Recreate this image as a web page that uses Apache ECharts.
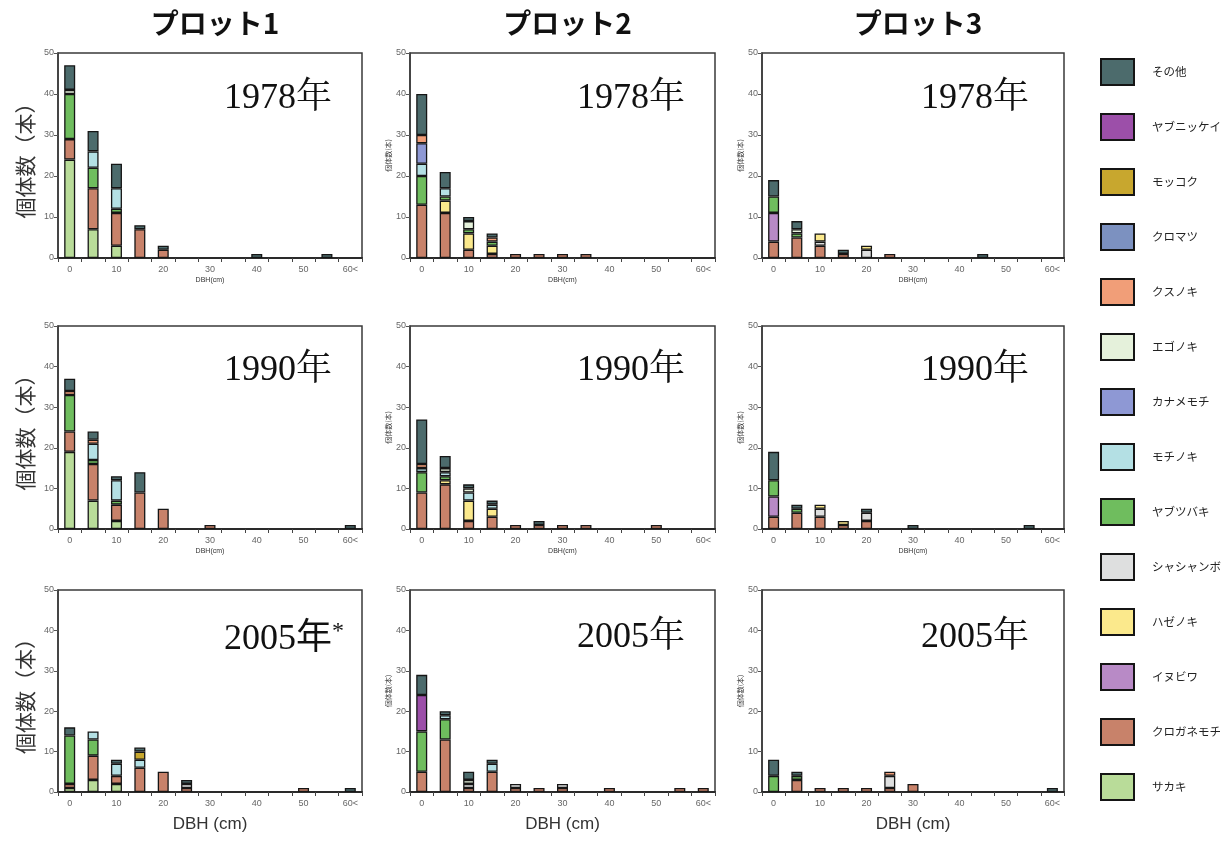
<!DOCTYPE html>
<html lang="ja">
<head>
  <meta charset="utf-8">
  <title>DBH分布 プロット1〜3</title>
  <style>
    html, body { margin: 0; padding: 0; background: #fff; }
    #main { width: 1232px; height: 843px; }
  </style>
</head>
<body>
  <div id="main"></div>
  <script src="https://cdn.jsdelivr.net/npm/echarts@6/dist/echarts.min.js"></script>
  <script>
    // DBH classes (cm)
    var categories = ['0', '5', '10', '15', '20', '25', '30', '35', '40', '45', '50', '55', '60<'];
    var yTicks = [0, 10, 20, 30, 40, 50];
    var plotNames = ['プロット1', 'プロット2', 'プロット3'];
    var years = ['1978年', '1990年', '2005年'];

    // species, bottom of the stack first
    var stackOrder = ['サカキ', 'クロガネモチ', 'イヌビワ', 'シャシャンボ', 'ハゼノキ', 'ヤブツバキ', 'モチノキ',
      'カナメモチ', 'エゴノキ', 'クスノキ', 'クロマツ', 'モッコク', 'ヤブニッケイ', 'その他'];
    // legend, top to bottom
    var legendOrder = ['その他', 'ヤブニッケイ', 'モッコク', 'クロマツ', 'クスノキ', 'エゴノキ', 'カナメモチ',
      'モチノキ', 'ヤブツバキ', 'シャシャンボ', 'ハゼノキ', 'イヌビワ', 'クロガネモチ', 'サカキ'];
    var colors = {
      'その他': '#4c6b6c', 'ヤブニッケイ': '#9c4fa9', 'モッコク': '#c8a72e', 'クロマツ': '#7c91c0',
      'クスノキ': '#f19e78', 'エゴノキ': '#e5f1db', 'カナメモチ': '#8e98d4', 'モチノキ': '#b4e0e4',
      'ヤブツバキ': '#6fbd5e', 'シャシャンボ': '#dedfdf', 'ハゼノキ': '#fbe98c', 'イヌビワ': '#b88ac6',
      'クロガネモチ': '#c8826a', 'サカキ': '#b9dc99'
    };

    // counts per DBH class, one object per plot & year
    var p1_1978 = {
      'サカキ':       [24, 7, 3, 0, 0, 0, 0, 0, 0, 0, 0, 0, 0],
      'クロガネモチ': [5, 10, 8, 7, 2, 0, 0, 0, 0, 0, 0, 0, 0],
      'ヤブツバキ':   [11, 5, 1, 0, 0, 0, 0, 0, 0, 0, 0, 0, 0],
      'モチノキ':     [0, 4, 5, 0, 0, 0, 0, 0, 0, 0, 0, 0, 0],
      'エゴノキ':     [1, 0, 0, 0, 0, 0, 0, 0, 0, 0, 0, 0, 0],
      'その他':       [6, 5, 6, 1, 1, 0, 0, 0, 1, 0, 0, 1, 0]
    };
    var p2_1978 = {
      'クロガネモチ': [13, 11, 2, 1, 1, 1, 1, 1, 0, 0, 0, 0, 0],
      'ハゼノキ':     [0, 3, 4, 2, 0, 0, 0, 0, 0, 0, 0, 0, 0],
      'ヤブツバキ':   [7, 1, 1, 1, 0, 0, 0, 0, 0, 0, 0, 0, 0],
      'モチノキ':     [3, 2, 0, 0, 0, 0, 0, 0, 0, 0, 0, 0, 0],
      'カナメモチ':   [5, 0, 0, 0, 0, 0, 0, 0, 0, 0, 0, 0, 0],
      'エゴノキ':     [0, 0, 2, 0, 0, 0, 0, 0, 0, 0, 0, 0, 0],
      'クスノキ':     [2, 0, 0, 1, 0, 0, 0, 0, 0, 0, 0, 0, 0],
      'その他':       [10, 4, 1, 1, 0, 0, 0, 0, 0, 0, 0, 0, 0]
    };
    var p3_1978 = {
      'クロガネモチ': [4, 5, 3, 1, 0, 1, 0, 0, 0, 0, 0, 0, 0],
      'イヌビワ':     [7, 0, 0, 0, 0, 0, 0, 0, 0, 0, 0, 0, 0],
      'シャシャンボ': [0, 0, 1, 0, 2, 0, 0, 0, 0, 0, 0, 0, 0],
      'ハゼノキ':     [0, 0, 2, 0, 1, 0, 0, 0, 0, 0, 0, 0, 0],
      'ヤブツバキ':   [4, 1, 0, 0, 0, 0, 0, 0, 0, 0, 0, 0, 0],
      'エゴノキ':     [0, 1, 0, 0, 0, 0, 0, 0, 0, 0, 0, 0, 0],
      'その他':       [4, 2, 0, 1, 0, 0, 0, 0, 0, 1, 0, 0, 0]
    };
    var p1_1990 = {
      'サカキ':       [19, 7, 2, 0, 0, 0, 0, 0, 0, 0, 0, 0, 0],
      'クロガネモチ': [5, 9, 4, 9, 5, 0, 1, 0, 0, 0, 0, 0, 0],
      'ヤブツバキ':   [9, 1, 1, 0, 0, 0, 0, 0, 0, 0, 0, 0, 0],
      'モチノキ':     [0, 4, 5, 0, 0, 0, 0, 0, 0, 0, 0, 0, 0],
      'クスノキ':     [1, 1, 0, 0, 0, 0, 0, 0, 0, 0, 0, 0, 0],
      'その他':       [3, 2, 1, 5, 0, 0, 0, 0, 0, 0, 0, 0, 1]
    };
    var p2_1990 = {
      'クロガネモチ': [9, 11, 2, 3, 1, 1, 1, 1, 0, 0, 1, 0, 0],
      'ハゼノキ':     [0, 1, 5, 2, 0, 0, 0, 0, 0, 0, 0, 0, 0],
      'ヤブツバキ':   [5, 1, 0, 0, 0, 0, 0, 0, 0, 0, 0, 0, 0],
      'モチノキ':     [1, 1, 2, 1, 0, 0, 0, 0, 0, 0, 0, 0, 0],
      'エゴノキ':     [0, 1, 1, 0, 0, 0, 0, 0, 0, 0, 0, 0, 0],
      'クスノキ':     [1, 0, 0, 0, 0, 0, 0, 0, 0, 0, 0, 0, 0],
      'その他':       [11, 3, 1, 1, 0, 1, 0, 0, 0, 0, 0, 0, 0]
    };
    var p3_1990 = {
      'クロガネモチ': [3, 4, 3, 1, 2, 0, 0, 0, 0, 0, 0, 0, 0],
      'イヌビワ':     [5, 0, 0, 0, 0, 0, 0, 0, 0, 0, 0, 0, 0],
      'シャシャンボ': [0, 0, 2, 0, 2, 0, 0, 0, 0, 0, 0, 0, 0],
      'ハゼノキ':     [0, 0, 1, 1, 0, 0, 0, 0, 0, 0, 0, 0, 0],
      'ヤブツバキ':   [4, 1, 0, 0, 0, 0, 0, 0, 0, 0, 0, 0, 0],
      'その他':       [7, 1, 0, 0, 1, 0, 1, 0, 0, 0, 0, 1, 0]
    };
    var p1_2005 = {
      'サカキ':       [1, 3, 2, 0, 0, 0, 0, 0, 0, 0, 0, 0, 0],
      'クロガネモチ': [1, 6, 2, 6, 5, 1, 0, 0, 0, 0, 1, 0, 0],
      'シャシャンボ': [0, 0, 0, 0, 0, 1, 0, 0, 0, 0, 0, 0, 0],
      'ヤブツバキ':   [12, 4, 0, 0, 0, 0, 0, 0, 0, 0, 0, 0, 0],
      'モチノキ':     [0, 2, 3, 2, 0, 0, 0, 0, 0, 0, 0, 0, 0],
      'モッコク':     [0, 0, 0, 2, 0, 0, 0, 0, 0, 0, 0, 0, 0],
      'その他':       [2, 0, 1, 1, 0, 1, 0, 0, 0, 0, 0, 0, 1]
    };
    var p2_2005 = {
      'クロガネモチ': [5, 13, 1, 5, 1, 1, 1, 0, 1, 0, 0, 1, 1],
      'シャシャンボ': [0, 0, 1, 0, 1, 0, 1, 0, 0, 0, 0, 0, 0],
      'ヤブツバキ':   [10, 5, 0, 0, 0, 0, 0, 0, 0, 0, 0, 0, 0],
      'モチノキ':     [0, 1, 0, 2, 0, 0, 0, 0, 0, 0, 0, 0, 0],
      'エゴノキ':     [0, 0, 1, 0, 0, 0, 0, 0, 0, 0, 0, 0, 0],
      'ヤブニッケイ': [9, 0, 0, 0, 0, 0, 0, 0, 0, 0, 0, 0, 0],
      'その他':       [5, 1, 2, 1, 0, 0, 0, 0, 0, 0, 0, 0, 0]
    };
    var p3_2005 = {
      'クロガネモチ': [0, 3, 1, 1, 1, 1, 2, 0, 0, 0, 0, 0, 0],
      'シャシャンボ': [0, 0, 0, 0, 0, 3, 0, 0, 0, 0, 0, 0, 0],
      'ヤブツバキ':   [4, 1, 0, 0, 0, 0, 0, 0, 0, 0, 0, 0, 0],
      'クスノキ':     [0, 0, 0, 0, 0, 1, 0, 0, 0, 0, 0, 0, 0],
      'その他':       [4, 1, 0, 0, 0, 0, 0, 0, 0, 0, 0, 0, 1]
    };

    // row by row, plot 1..3 in each row
    var panels = [p1_1978, p2_1978, p3_1978, p1_1990, p2_1990, p3_1990, p1_2005, p2_2005, p3_2005];

    var colLeft = [58, 410, 762];
    var colWidth = [304, 305, 302];
    var rowTop = [53, 326, 590];
    var rowHeight = [205, 203, 202];
    var yearLeft = [219, 572, 916];
    var yearTop = [76, 348, 615];

    var sansFont = '"Liberation Sans", "Noto Sans CJK JP", sans-serif';
    var jpFont = '"Noto Sans CJK JP", sans-serif';

    var grids = [], xAxes = [], yAxes = [], series = [], titles = [];

    panels.forEach(function (panel, i) {
      var row = Math.floor(i / 3), col = i % 3;
      grids.push({
        left: colLeft[col], top: rowTop[row], width: colWidth[col], height: rowHeight[row],
        show: true, borderColor: '#3a3a3a', borderWidth: 1.5, backgroundColor: '#fff'
      });
      xAxes.push({
        type: 'category', gridIndex: i, data: categories,
        name: row === 2 ? 'DBH (cm)' : 'DBH(cm)',
        nameLocation: 'middle',
        nameGap: row === 2 ? 24 : 19,
        nameTextStyle: { fontSize: row === 2 ? 17 : 7, color: '#333', fontFamily: sansFont },
        axisLine: { lineStyle: { color: '#2a2a2a', width: 2 } },
        axisTick: { show: true, interval: 0, length: 4, lineStyle: { color: '#444' } },
        axisLabel: { interval: 1, fontSize: 9, color: '#666', margin: 7, fontFamily: sansFont },
        splitLine: { show: false }
      });
      yAxes.push({
        type: 'value', gridIndex: i, min: yTicks[0], max: yTicks[yTicks.length - 1], interval: 10,
        name: col === 0 ? '個体数（本）' : '個体数(本)',
        nameLocation: 'middle', nameRotate: 90,
        nameGap: col === 0 ? 22 : 15,
        nameTextStyle: { fontSize: col === 0 ? 21 : 7, color: '#333', fontFamily: jpFont },
        axisLine: { show: true, lineStyle: { color: '#3a3a3a', width: 1.5 } },
        axisTick: { show: true, length: 4, lineStyle: { color: '#555' } },
        axisLabel: { fontSize: 9, color: '#666', margin: 4, fontFamily: sansFont },
        splitLine: { show: false }
      });
      stackOrder.forEach(function (name) {
        var vals = panel[name] || [];
        series.push({
          type: 'bar', name: name, xAxisIndex: i, yAxisIndex: i, stack: 'p' + i,
          barWidth: 11,
          data: categories.map(function (c, k) { return vals[k] ? vals[k] : '-'; }),
          itemStyle: { color: colors[name], borderColor: '#151515', borderWidth: 1.3 },
          emphasis: { disabled: true }
        });
      });
      titles.push({
        text: row === 2 && col === 0 ? '{y|' + years[row] + '}{s|*}' : years[row],
        left: yearLeft[col], top: yearTop[row],
        textStyle: {
          fontSize: 36, fontWeight: 'normal', color: '#111',
          fontFamily: '"Liberation Serif", "Noto Serif CJK JP", "Noto Sans CJK JP", serif',
          rich: {
            y: { fontSize: 36, color: '#111', fontFamily: '"Liberation Serif", "Noto Sans CJK JP", serif' },
            s: { fontSize: 24, color: '#111', fontFamily: '"Liberation Serif", serif', padding: [0, 0, 16, 0] }
          }
        }
      });
    });

    plotNames.forEach(function (p, col) {
      titles.push({
        text: p, left: colLeft[col] + colWidth[col] / 2, top: 4, textAlign: 'center',
        textStyle: { fontSize: 28, fontWeight: 'bold', color: '#111', fontFamily: jpFont }
      });
    });

    var myChart = echarts.init(document.getElementById('main'));
    myChart.setOption({
      animation: false,
      backgroundColor: '#fff',
      title: titles,
      legend: {
        data: legendOrder,
        orient: 'vertical',
        left: 1100, top: 58,
        padding: 0,
        itemWidth: 33, itemHeight: 26, itemGap: 27,
        icon: 'rect',
        selectedMode: false,
        textStyle: { fontSize: 11.5, color: '#222', fontFamily: jpFont, padding: [0, 0, 0, 13] }
      },
      grid: grids,
      xAxis: xAxes,
      yAxis: yAxes,
      series: series
    });
  </script>
</body>
</html>
